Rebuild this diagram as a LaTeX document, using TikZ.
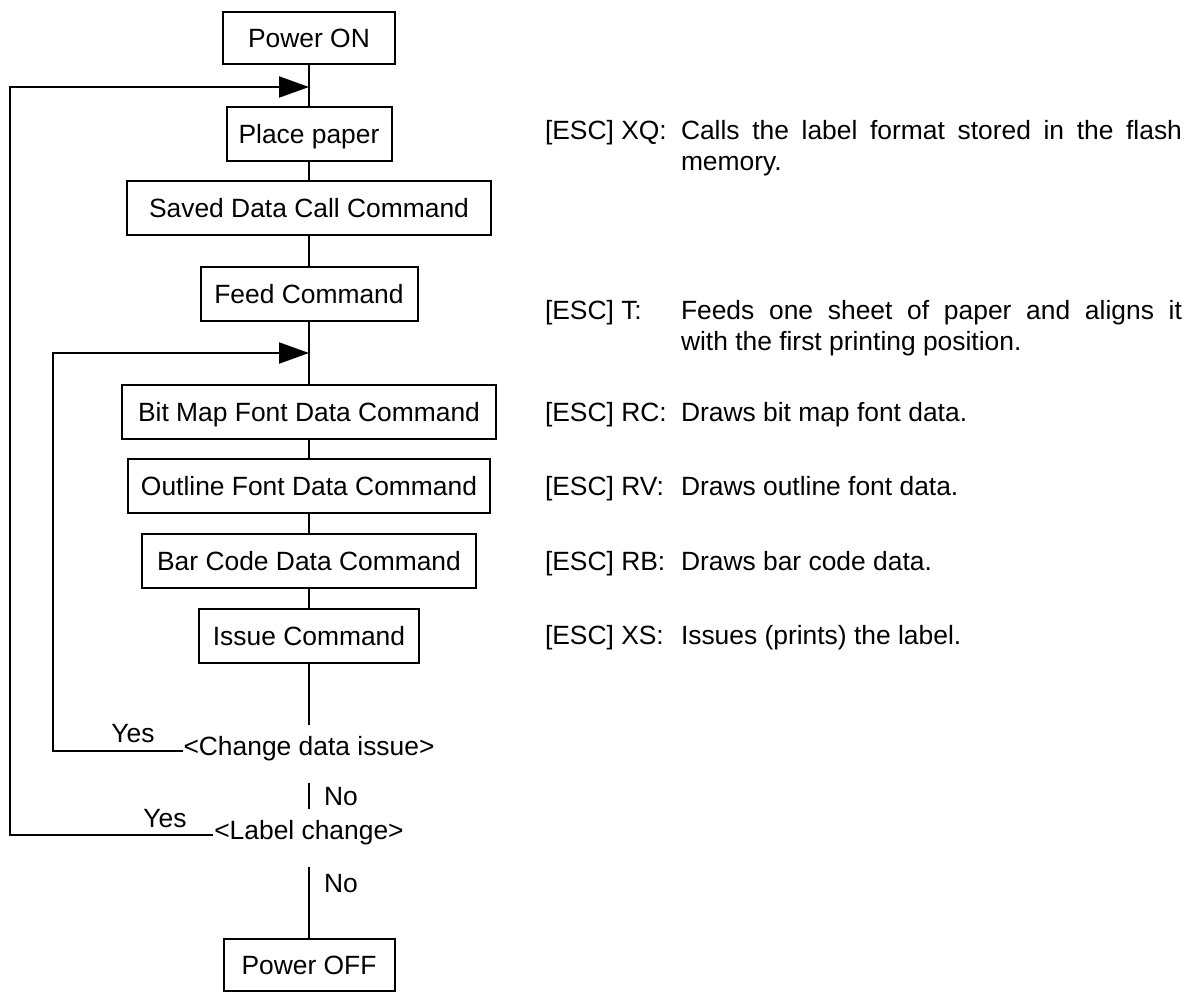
\documentclass[tikz,border=0pt]{standalone}
\usepackage{fontspec}
\setmainfont{Liberation Sans}
\usepackage{tikz}
\usetikzlibrary{shapes,arrows.meta}

\tikzset{
  cmdbox/.style={draw, minimum height=27pt, inner sep=0pt, text height=9.5pt, text depth=0pt},
  query/.style={inner sep=0pt, anchor=base, text height=14.5pt, text depth=13.5pt},
  note/.style={inner sep=0pt, anchor=base west},
}

\begin{document}
\begin{tikzpicture}[x=0.5pt,y=-0.5pt,line width=1pt,
  >={Triangle[length=15pt,width=10.5pt]},
  font=\fontsize{13.2}{15.5}\selectfont]
\useasboundingbox (0,0) rectangle (1191,992);

% to write the command boxes
\node [cmdbox, minimum width=86pt, minimum height=26pt] (pon) at (309,38) {Power ON};
\node [cmdbox, minimum width=82.5pt] (place) at (309,134) {Place paper};
\node [cmdbox, minimum width=182pt] (saved) at (309,208) {Saved Data Call Command};
\node [cmdbox, minimum width=108.5pt] (feed) at (309,294) {Feed Command};
\node [cmdbox, minimum width=187pt] (bitmap) at (309,411.5) {Bit Map Font Data Command};
\node [cmdbox, minimum width=181pt] (outline) at (309,486) {Outline Font Data Command};
\node [cmdbox, minimum width=167pt] (barcode) at (309,560.5) {Bar Code Data Command};
\node [cmdbox, minimum width=110pt] (issue) at (309,635.5) {Issue Command};
\node [cmdbox, minimum width=85.5pt, minimum height=26pt] (poff) at (309,965) {Power OFF};

% to write the two questions
\node [query] (chg) at (309,755) {<Change data issue>};
\node [query] (lbl) at (309,839) {<Label change>};

% answers
\node [anchor=base, inner sep=0pt] (yes1) at (133,742) {Yes};
\node [anchor=base, inner sep=0pt] (yes2) at (165,827) {Yes};
\node [note] (no1) at (323,805) {No};
\node [note] (no2) at (323,892) {No};

% join points of the loops
\coordinate (topjoin) at (309,87);
\coordinate (midjoin) at (309,353);
\coordinate (outerturn) at (10,87);
\coordinate (innerturn) at (53,353);

% to draw the main line
\draw (pon.south) -- (place.north);
\draw (place.south) -- (saved.north);
\draw (saved.south) -- (feed.north);
\draw (feed.south) -- (bitmap.north);
\draw (bitmap.south) -- (outline.north);
\draw (outline.south) -- (barcode.north);
\draw (barcode.south) -- (issue.north);
\draw (issue.south) -- (chg.north);
\draw (chg.south) -- (lbl.north);
\draw (lbl.south) -- (poff.north);

% to draw the loops with arrow
\draw [->] ([yshift=2pt]chg.base west) -| (innerturn) -- (midjoin);
\draw [->] ([yshift=2pt]lbl.base west) -| (outerturn) -- (topjoin);

% command notes on the right
\node [note] (xqkey) at (544,139) {[ESC] XQ:};
\node [note] (xqtext) at (680,139) {\parbox[t]{250.5pt}{\noindent Calls the label format stored in the flash\linebreak memory.}};
\node [note] (tkey) at (544,319) {[ESC] T:};
\node [note] (ttext) at (680,319) {\parbox[t]{250.5pt}{\noindent Feeds one sheet of paper and aligns it\linebreak with the first printing position.}};
\node [note] (rckey) at (544,421) {[ESC] RC:};
\node [note] (rctext) at (680,421) {Draws bit map font data.};
\node [note] (rvkey) at (544,495) {[ESC] RV:};
\node [note] (rvtext) at (680,495) {Draws outline font data.};
\node [note] (rbkey) at (544,570) {[ESC] RB:};
\node [note] (rbtext) at (680,570) {Draws bar code data.};
\node [note] (xskey) at (544,644) {[ESC] XS:};
\node [note] (xstext) at (680,644) {Issues (prints) the label.};
\end{tikzpicture}
\end{document}
